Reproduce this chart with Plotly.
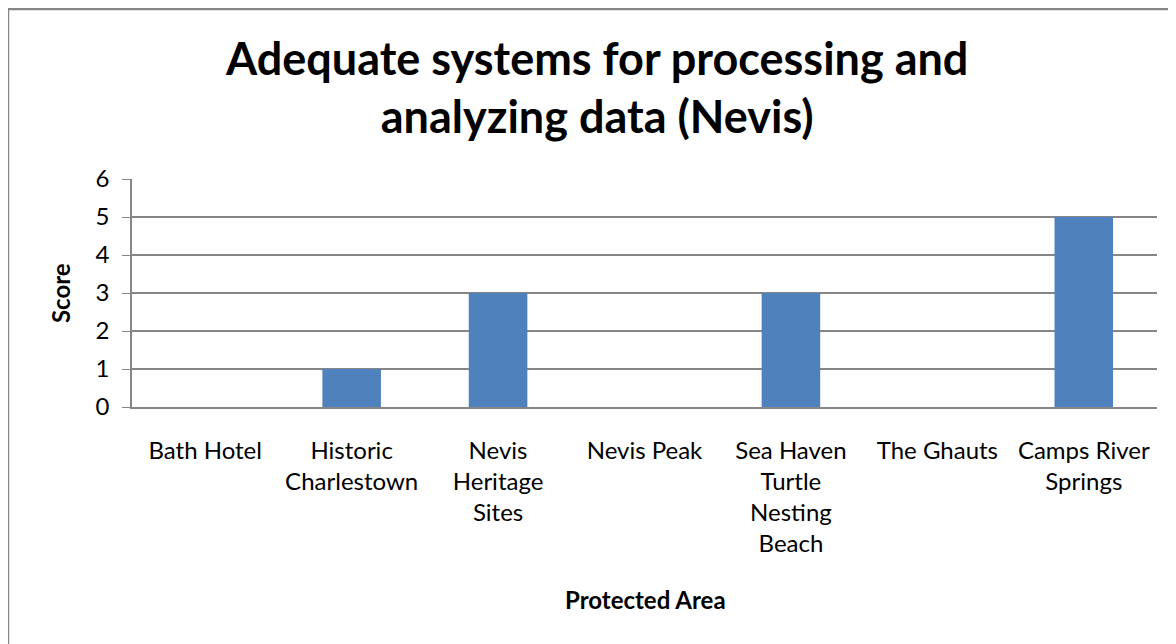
import plotly.graph_objects as go

categories = ["Bath Hotel", "Historic<br>Charlestown", "Nevis<br>Heritage<br>Sites", "Nevis Peak",
              "Sea Haven<br>Turtle<br>Nesting<br>Beach", "The Ghauts", "Camps River<br>Springs"]
scores = [0, 1, 3, 0, 3, 0, 5]
y_ticks = [0, 1, 2, 3, 4, 5, 6]

FONT = "Lato, Open Sans, sans-serif"
GRID = "#868686"

fig = go.Figure(go.Bar(x=categories, y=scores, marker=dict(color="#4F81BD", line=dict(width=0)),
                       width=0.4))

fig.update_layout(
    width=1176, height=644,
    margin=dict(l=124, r=27, t=171, b=245),
    paper_bgcolor="white", plot_bgcolor="white",
    font=dict(family=FONT, color="black"),
    showlegend=False,
    title=dict(text="<b>Adequate systems for processing and<br>analyzing data (Nevis)</b>",
               x=0.501, xanchor="center", y=0.896, yanchor="middle",
               font=dict(size=45, family=FONT, color="black")),
    xaxis=dict(type="category", showgrid=False, showline=True, linecolor=GRID, linewidth=1.5,
               ticks="", tickfont=dict(size=24), ticklabelstandoff=21),
    yaxis=dict(range=[0, 6], tickvals=y_ticks, showgrid=True, gridcolor=GRID, gridwidth=1.5,
               showline=True, linecolor=GRID, linewidth=1.5, ticks="outside", ticklen=8,
               tickcolor=GRID, tickfont=dict(size=24), zeroline=False, ticklabelstandoff=8),
    annotations=[
        dict(text="<b>Score</b>", xref="paper", yref="paper", x=-0.0702, y=0.5,
             xanchor="center", yanchor="middle", textangle=-90, showarrow=False,
             font=dict(size=24)),
        dict(text="<b>Protected Area</b>", xref="paper", yref="paper", x=0.5005, y=-0.846,
             xanchor="center", yanchor="middle", showarrow=False, font=dict(size=24)),
    ],
    shapes=[dict(type="rect", xref="paper", yref="paper", x0=-0.121, x1=1.1, y0=-1.6, y1=1.746,
                 line=dict(color=GRID, width=2.5), fillcolor="rgba(0,0,0,0)", layer="below")],
)

fig.write_html("out.html")
